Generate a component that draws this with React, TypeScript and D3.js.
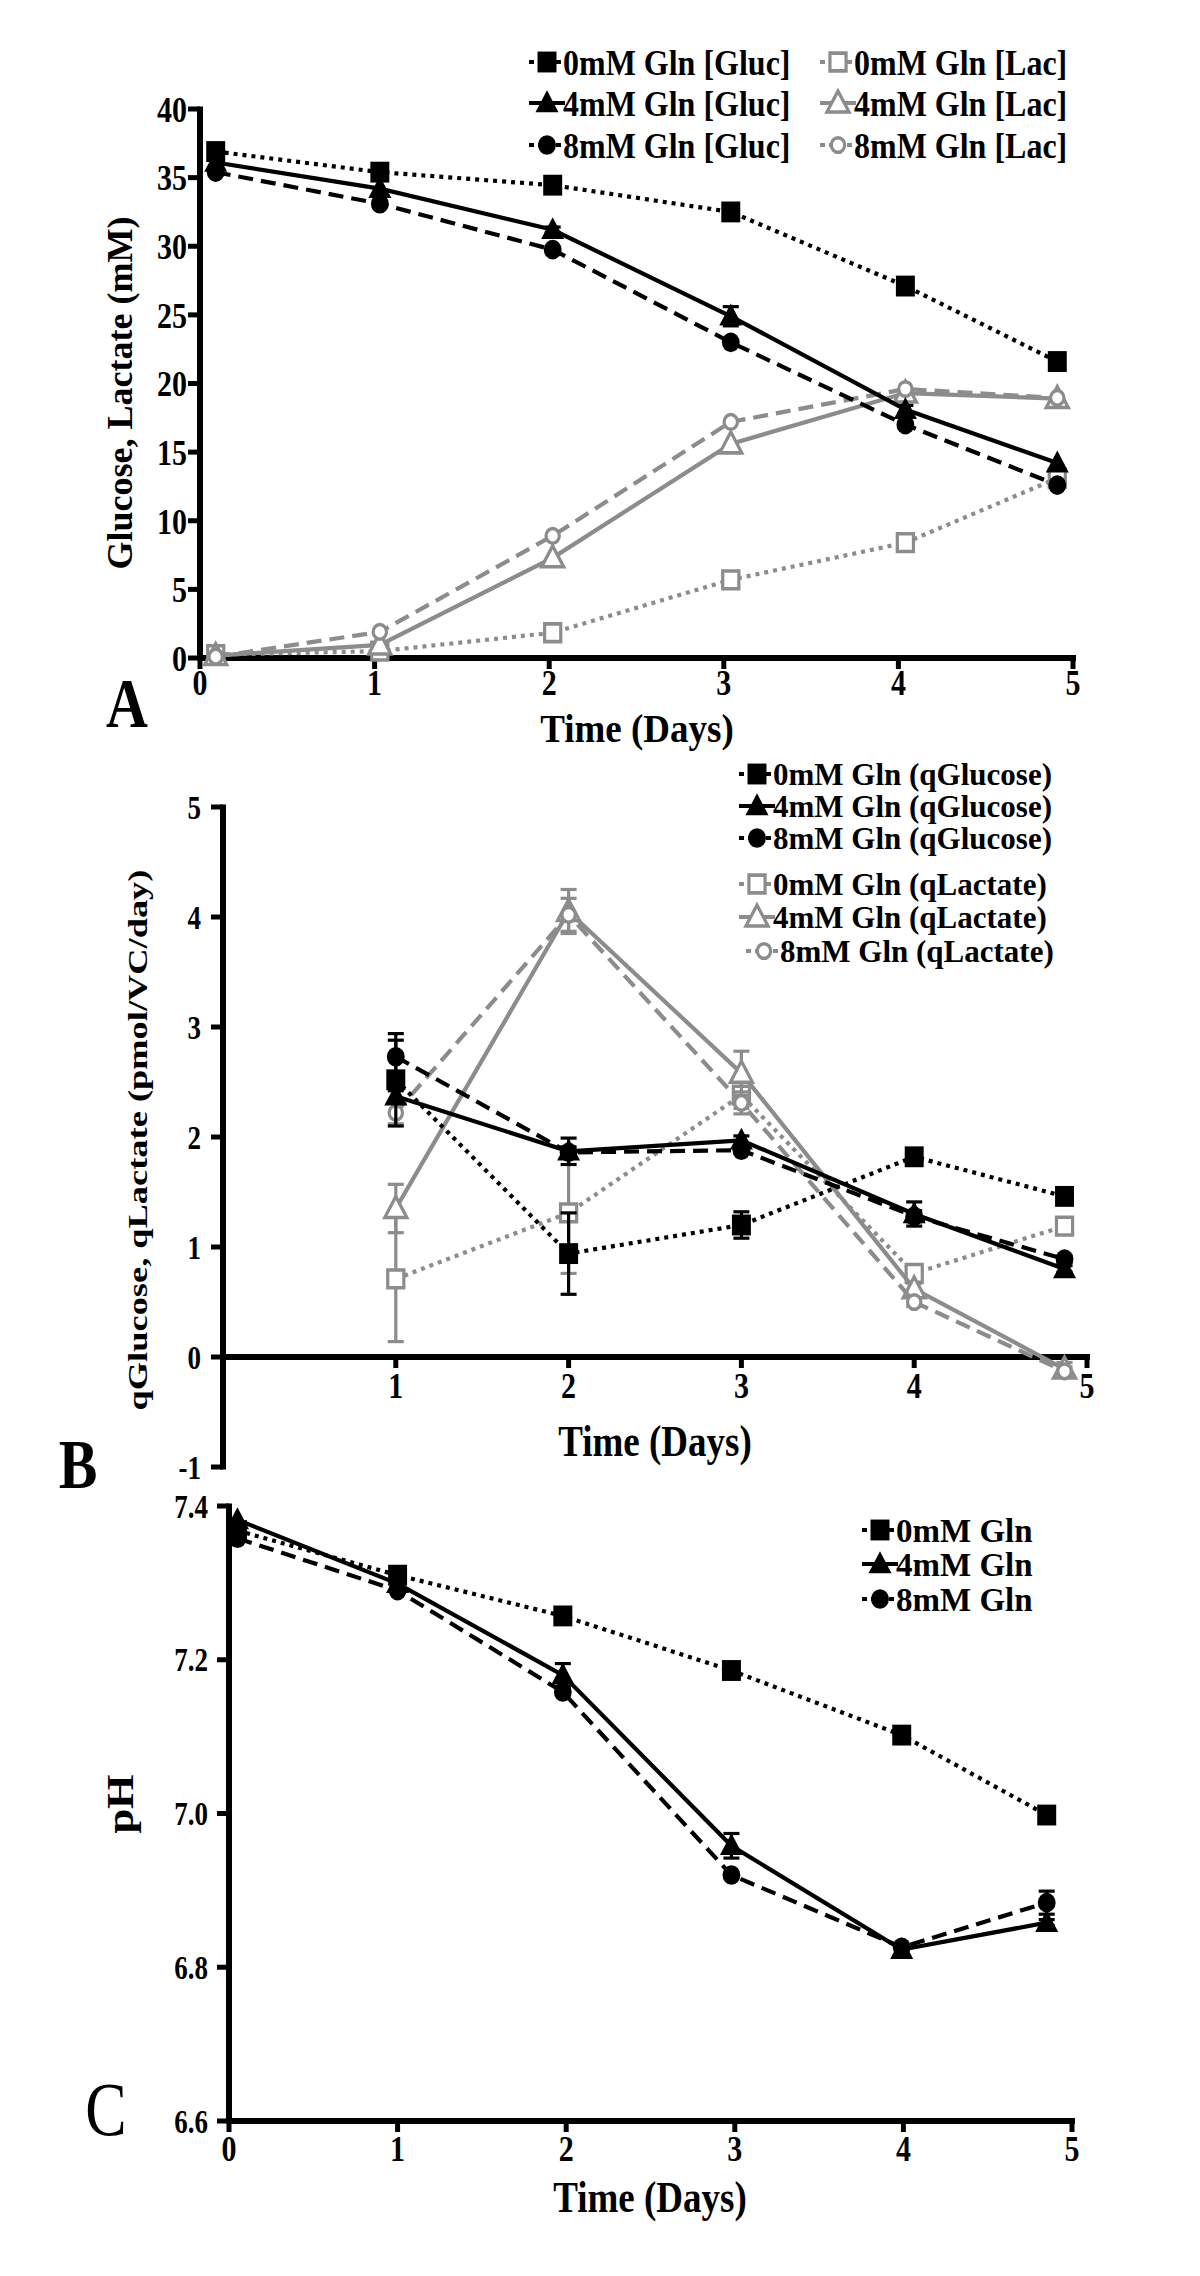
import React from "react";
import * as d3 from "d3";

const FONT = '"Liberation Serif", "Times New Roman", Times, serif';
const GRAY = "#8c8c8c";
const SY = 1.22; // the figure's text is stretched vertically

// ---------- Panel A : concentrations (mM)
const daysA = [0.09, 1.03, 2.02, 3.04, 4.04, 4.91];
const glcA0 = [36.9, 35.4, 34.45, 32.5, 27.1, 21.6];
const glcA4 = [36.1, 34.2, 31.2, 24.9, 18.1, 14.2];
const glcA8 = [35.4, 33.1, 29.75, 23.0, 17.0, 12.6];
const lacA0 = [0.25, 0.5, 1.84, 5.7, 8.4, 13.1];
const lacA4 = [0.18, 0.95, 7.3, 15.6, 19.3, 18.9];
const lacA8 = [0.1, 1.9, 8.9, 17.2, 19.6, 18.95];
const errGlcA4 = [0, 0, 0.2, 0.7, 0.3, 0];
const ticksAy = [0, 5, 10, 15, 20, 25, 30, 35, 40];
const ticksAx = [0, 1, 2, 3, 4, 5];
const legendA = [
  "0mM Gln [Gluc]",
  "4mM Gln [Gluc]",
  "8mM Gln [Gluc]",
  "0mM Gln [Lac]",
  "4mM Gln [Lac]",
  "8mM Gln [Lac]",
];

// ---------- Panel B : specific rates (pmol/VC/day)
const daysB = [1, 2, 3, 4, 4.87];
const qGlc0 = [2.52, 0.94, 1.2, 1.82, 1.46];
const qGlc4 = [2.37, 1.87, 1.97, 1.3, 0.8];
const qGlc8 = [2.73, 1.86, 1.88, 1.28, 0.89];
const qLac0 = [0.71, 1.31, 2.38, 0.76, 1.19];
const qLac4 = [1.35, 4.05, 2.58, 0.62, -0.11];
const qLac8 = [2.22, 4.02, 2.31, 0.5, -0.13];
const errQGlc0 = [0.42, 0.37, 0.12, 0.07, 0.04];
const errQGlc4 = [0.05, 0.12, 0.04, 0.11, 0.03];
const errQGlc8 = [0.15, 0.05, 0.03, 0.05, 0.03];
const errQLac0 = [0.57, 0.55, 0.12, 0.07, 0.06];
const errQLac4 = [0.22, 0.2, 0.2, 0.05, 0.06];
const errQLac8 = [0.1, 0.15, 0.1, 0.04, 0.04];
const ticksBy = [-1, 0, 1, 2, 3, 4, 5];
const ticksBx = [1, 2, 3, 4, 5];
const legendB = [
  "0mM Gln (qGlucose)",
  "4mM Gln (qGlucose)",
  "8mM Gln (qGlucose)",
  "0mM Gln (qLactate)",
  "4mM Gln (qLactate)",
  "8mM Gln (qLactate)",
];

// ---------- Panel C : pH
const daysC = [0.05, 1.0, 1.98, 2.98, 3.99, 4.85];
const pH0 = [7.368, 7.31, 7.257, 7.186, 7.102, 6.998];
const pH4 = [7.382, 7.299, 7.18, 6.958, 6.823, 6.858];
const pH8 = [7.358, 7.29, 7.158, 6.92, 6.826, 6.884];
const errPH4 = [0, 0, 0.015, 0.016, 0, 0.004];
const errPH8 = [0, 0, 0, 0, 0, 0.015];
const ticksCy = [6.6, 6.8, 7.0, 7.2, 7.4];
const ticksCx = [0, 1, 2, 3, 4, 5];
const legendC = ["0mM Gln", "4mM Gln", "8mM Gln"];

type Sym = "square" | "triangle" | "circle";
type Style = { color: string; dash: string | undefined; sym: Sym; open: boolean };

const DOT = "4 5";
const DASH = "15 8";

const sBlack0: Style = { color: "#000", dash: DOT, sym: "square", open: false };
const sBlack4: Style = { color: "#000", dash: undefined, sym: "triangle", open: false };
const sBlack8: Style = { color: "#000", dash: DASH, sym: "circle", open: false };
const sGray0: Style = { color: GRAY, dash: DOT, sym: "square", open: true };
const sGray4: Style = { color: GRAY, dash: undefined, sym: "triangle", open: true };
const sGray8: Style = { color: GRAY, dash: DASH, sym: "circle", open: true };
const allStyles = [sBlack0, sBlack4, sBlack8, sGray0, sGray4, sGray8];

function T({
  x,
  y,
  size,
  children,
  anchor = "start",
  bold = true,
  rotate = false,
  stretch = SY,
  dy,
}: {
  x: number;
  y: number;
  size: number;
  children: React.ReactNode;
  anchor?: string;
  bold?: boolean;
  rotate?: boolean;
  stretch?: number;
  dy?: string;
}) {
  const tf = rotate
    ? `translate(${x},${y}) rotate(-90) scale(${stretch},1)`
    : `translate(${x},${y}) scale(1,${stretch})`;
  return (
    <text
      transform={tf}
      dy={dy}
      textAnchor={anchor as any}
      fontFamily={FONT}
      fontWeight={bold ? "bold" : "normal"}
      fontSize={size}
      fill="#000"
    >
      {children}
    </text>
  );
}

function symPath(st: Style) {
  const type =
    st.sym === "square" ? d3.symbolSquare : st.sym === "triangle" ? d3.symbolTriangle : d3.symbolCircle;
  let size: number;
  if (st.sym === "square") size = st.open ? 260 : 360;
  else if (st.sym === "triangle") size = st.open ? 210 : 230;
  else size = st.open ? 140 : 250;
  return d3.symbol().type(type).size(size)() as string;
}

function Marker({ x, y, st }: { x: number; y: number; st: Style }) {
  const dy = st.sym === "triangle" ? 2 : 0;
  return (
    <path
      d={symPath(st)}
      transform={`translate(${x},${y + dy}) scale(1,1.1)`}
      fill={st.open ? "#fff" : st.color}
      stroke={st.color}
      strokeWidth={st.open ? 3.2 : 0}
    />
  );
}

function Series({
  xs,
  ys,
  days,
  vals,
  err,
  st,
}: {
  xs: d3.ScaleLinear<number, number>;
  ys: d3.ScaleLinear<number, number>;
  days: number[];
  vals: number[];
  err?: number[];
  st: Style;
}) {
  const line = d3
    .line<number>()
    .x((_, i) => xs(days[i]))
    .y((d) => ys(d));
  return (
    <g>
      <path d={line(vals) as string} fill="none" stroke={st.color} strokeWidth={4.2} strokeDasharray={st.dash} />
      {err &&
        vals.map((v, i) =>
          err[i] > 0 ? (
            <g key={"e" + i} stroke={st.color} strokeWidth={3.2}>
              <line x1={xs(days[i])} x2={xs(days[i])} y1={ys(v - err[i])} y2={ys(v + err[i])} />
              <line x1={xs(days[i]) - 8} x2={xs(days[i]) + 8} y1={ys(v - err[i])} y2={ys(v - err[i])} />
              <line x1={xs(days[i]) - 8} x2={xs(days[i]) + 8} y1={ys(v + err[i])} y2={ys(v + err[i])} />
            </g>
          ) : null
        )}
      {vals.map((v, i) => (
        <Marker key={i} x={xs(days[i])} y={ys(v)} st={st} />
      ))}
    </g>
  );
}

function LegendItem({
  x,
  y,
  st,
  label,
  fs,
  stretch,
}: {
  x: number;
  y: number;
  st: Style;
  label: string;
  fs: number;
  stretch: number;
}) {
  return (
    <g>
      <line
        x1={x - 18}
        x2={x + 18}
        y1={y}
        y2={y}
        stroke={st.color}
        strokeWidth={4}
        strokeDasharray={st.dash ? "5 4" : undefined}
      />
      <Marker x={x} y={y} st={st} />
      <T x={x + 16} y={y} size={fs} dy="0.35em" stretch={stretch}>
        {label}
      </T>
    </g>
  );
}

function Axes({
  xs,
  ys,
  xTicks,
  yTicks,
  yFmt,
  xAxisY,
  xFs,
  yFs,
  xLabelY,
  yLabelX,
  yMin,
  yMax,
}: {
  xs: d3.ScaleLinear<number, number>;
  ys: d3.ScaleLinear<number, number>;
  xTicks: number[];
  yTicks: number[];
  yFmt: (v: number) => string;
  xAxisY: number;
  xFs: number;
  yFs: number;
  xLabelY: number;
  yLabelX: number;
  yMin: number;
  yMax: number;
}) {
  const x0 = xs(0);
  const xb = xs.range()[1];
  return (
    <g>
      <line x1={x0} x2={x0} y1={ys(yMax) - 2.5} y2={ys(yMin) + 2.5} stroke="#000" strokeWidth={6} />
      <line x1={x0 - 3} x2={xb + 3} y1={xAxisY} y2={xAxisY} stroke="#000" strokeWidth={6} />
      {yTicks.map((t) => (
        <g key={"y" + t}>
          <line x1={x0 - 12} x2={x0} y1={ys(t)} y2={ys(t)} stroke="#000" strokeWidth={5} />
          <T x={yLabelX} y={ys(t)} size={yFs} anchor="end" dy="0.35em">
            {yFmt(t)}
          </T>
        </g>
      ))}
      {xTicks.map((t) => (
        <g key={"x" + t}>
          <line x1={xs(t)} x2={xs(t)} y1={xAxisY} y2={xAxisY + 11} stroke="#000" strokeWidth={5} />
          <T x={xs(t)} y={xLabelY} size={xFs} anchor="middle">
            {String(t)}
          </T>
        </g>
      ))}
    </g>
  );
}

export default function App() {
  const xA = d3.scaleLinear().domain([0, 5]).range([200, 1073]);
  const yA = d3.scaleLinear().domain([0, 40]).range([658, 109]);
  const xB = d3.scaleLinear().domain([0, 5]).range([223, 1087]);
  const yB = d3.scaleLinear().domain([-1, 5]).range([1467, 807]);
  const xC = d3.scaleLinear().domain([0, 5]).range([229, 1072]);
  const yC = d3.scaleLinear().domain([6.6, 7.4]).range([2121, 1506]);

  const legendARows = [62, 103, 145];
  const legendBRows = [774, 806, 838, 884, 917, 951];
  const legendCRows = [1530, 1564, 1599];

  return (
    <svg
      width={1200}
      height={2276}
      viewBox="0 0 1200 2276"
      style={{ position: "absolute", left: 0, top: 0, background: "#fff" }}
    >
      <rect width={1200} height={2276} fill="#fff" />

      {/* ---------------- Panel A ---------------- */}
      <Axes
        xs={xA}
        ys={yA}
        xTicks={ticksAx}
        yTicks={ticksAy}
        yFmt={(v) => String(v)}
        xAxisY={yA(0)}
        xFs={30}
        yFs={30}
        xLabelY={695}
        yLabelX={187}
        yMin={0}
        yMax={40}
      />
      <Series xs={xA} ys={yA} days={daysA} vals={lacA0} st={sGray0} />
      <Series xs={xA} ys={yA} days={daysA} vals={lacA4} st={sGray4} />
      <Series xs={xA} ys={yA} days={daysA} vals={lacA8} st={sGray8} />
      <Series xs={xA} ys={yA} days={daysA} vals={glcA0} st={sBlack0} />
      <Series xs={xA} ys={yA} days={daysA} vals={glcA4} err={errGlcA4} st={sBlack4} />
      <Series xs={xA} ys={yA} days={daysA} vals={glcA8} st={sBlack8} />
      {legendA.map((lab, i) => (
        <LegendItem
          key={lab}
          x={i < 3 ? 547 : 838}
          y={legendARows[i % 3]}
          st={allStyles[i]}
          label={lab}
          fs={32}
          stretch={1.12}
        />
      ))}
      <T x={132} y={393} size={35} anchor="middle" rotate stretch={1.03}>
        Glucose, Lactate (mM)
      </T>
      <T x={637} y={742} size={37} anchor="middle" stretch={1.08}>
        Time (Days)
      </T>
      <T x={127} y={727} size={58} anchor="middle">
        A
      </T>

      {/* ---------------- Panel B ---------------- */}
      <Axes
        xs={xB}
        ys={yB}
        xTicks={ticksBx}
        yTicks={ticksBy}
        yFmt={(v) => String(v)}
        xAxisY={yB(0)}
        xFs={30}
        yFs={27}
        xLabelY={1398}
        yLabelX={201}
        yMin={-1}
        yMax={5}
      />
      <Series xs={xB} ys={yB} days={daysB} vals={qLac0} err={errQLac0} st={sGray0} />
      <Series xs={xB} ys={yB} days={daysB} vals={qLac4} err={errQLac4} st={sGray4} />
      <Series xs={xB} ys={yB} days={daysB} vals={qLac8} err={errQLac8} st={sGray8} />
      <Series xs={xB} ys={yB} days={daysB} vals={qGlc0} err={errQGlc0} st={sBlack0} />
      <Series xs={xB} ys={yB} days={daysB} vals={qGlc4} err={errQGlc4} st={sBlack4} />
      <Series xs={xB} ys={yB} days={daysB} vals={qGlc8} err={errQGlc8} st={sBlack8} />
      {legendB.map((lab, i) => (
        <LegendItem
          key={lab}
          x={i === 5 ? 764 : 757}
          y={legendBRows[i]}
          st={allStyles[i]}
          label={lab}
          fs={31}
          stretch={1}
        />
      ))}
      <T x={147} y={1140} size={28} anchor="middle" rotate stretch={1.3}>
        qGlucose, qLactate (pmol/VC/day)
      </T>
      <T x={655} y={1456} size={37} anchor="middle">
        Time (Days)
      </T>
      <T x={78} y={1488} size={58} anchor="middle">
        B
      </T>

      {/* ---------------- Panel C ---------------- */}
      <Axes
        xs={xC}
        ys={yC}
        xTicks={ticksCx}
        yTicks={ticksCy}
        yFmt={(v) => d3.format(".1f")(v)}
        xAxisY={yC(6.6)}
        xFs={30}
        yFs={27}
        xLabelY={2161}
        yLabelX={208}
        yMin={6.6}
        yMax={7.4}
      />
      <Series xs={xC} ys={yC} days={daysC} vals={pH0} st={sBlack0} />
      <Series xs={xC} ys={yC} days={daysC} vals={pH4} err={errPH4} st={sBlack4} />
      <Series xs={xC} ys={yC} days={daysC} vals={pH8} err={errPH8} st={sBlack8} />
      {legendC.map((lab, i) => (
        <LegendItem key={lab} x={880} y={legendCRows[i]} st={allStyles[i]} label={lab} fs={33} stretch={1} />
      ))}
      <T x={133} y={1804} size={37} anchor="middle" rotate stretch={1.2}>
        pH
      </T>
      <T x={650} y={2212} size={37} anchor="middle">
        Time (Days)
      </T>
      <T x={106} y={2135} size={62} anchor="middle" bold={false}>
        C
      </T>
    </svg>
  );
}
